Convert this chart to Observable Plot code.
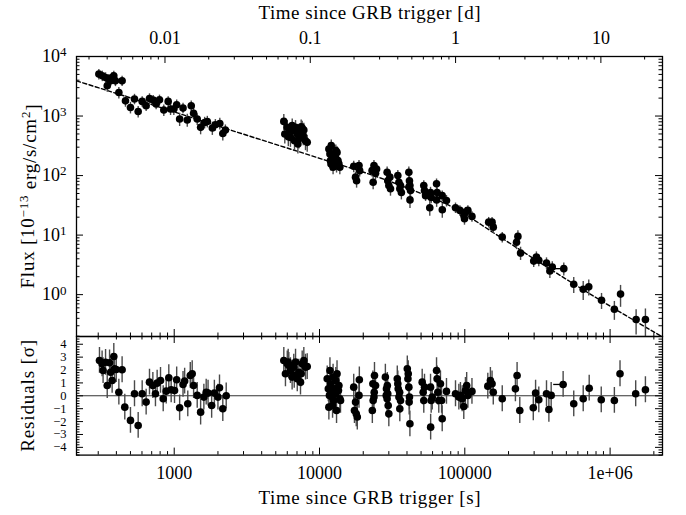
<!DOCTYPE html>
<html><head><meta charset="utf-8">
<script src="https://cdn.jsdelivr.net/npm/d3@7"></script>
<script src="https://cdn.jsdelivr.net/npm/@observablehq/plot@0.6"></script>
<style>
body{margin:0;background:#fff;}
#wrap{position:relative;width:686px;height:515px;font-family:"Liberation Serif",serif;}
#wrap svg{position:absolute;left:0;overflow:visible;font-family:"Liberation Serif","Times New Roman",serif !important;}
#wrap svg text{font-family:"Liberation Serif","Times New Roman",serif !important;}
</style></head><body><div id="wrap"></div>
<script>
// ---------- data ----------
const fluxTime = [
 303,320,337,355,374,384,365,346,394,438,416,462,500,533,565,602,641,676,717,751,792,848,909,944,994,1040,1090,1150,1230,1310,1360,1440,1520,1620,1690,1830,1920,2060,2160,2250,
 5680,5770,6000,6250,6310,6550,6730,6840,7030,7210,7400,7600,7800,8010,7730,6490,7100,8230,6100,7480,
 11600,11800,11900,12000,12200,12400,12500,12700,12900,13100,13200,13400,13600,13800,12050,12950,
 17200,17700,18000,18700,18900,23000,23400,23700,24300,24700,29200,29500,30000,30500,30800,
 34600,35200,35700,36100,36600,41200,41600,41900,42300,41950,41250,
 52200,52800,53700,58100,57400,58700,63900,64500,64000,69900,70000,74800,
 86300,92500,98500,101000,105000,99500,112000,146000,154000,157000,181000,227000,232000,242000,
 298000,311000,323000,365000,385000,400000,480000,562000,653000,713000,873000,1070000,1180000,1510000,1750000
];
const fluxValue = [
 5060,4730,4440,4170,4440,4730,3900,3220,3900,3900,2480,1800,1390,1930,1190,1760,1490,1970,1850,1590,1870,1260,1760,1310,1310,1550,890,1360,860,1490,1110,890,645,780,810,630,715,750,510,580,
 813,499,645,582,438,567,385,645,499,412,567,630,582,385,468,689,340,361,450,662,
 280,231,178,157,216,138,190,167,203,147,245,178,157,138,318,262,
 143,94,82,147,121,121,77,147,109,129,114,82,68,94,60,
 100,77,60,68,52,114,82,68,56,39,64,
 68,56,46,52,28.8,43,73,52,39,46,26.6,38,
 28.8,26,21.4,24.3,26,18.8,20.6,16.5,16.5,13.6,9.25,7.6,9.5,5.0,
 3.66,4.28,3.77,3.40,2.49,2.91,2.73,1.49,1.23,1.35,0.805,0.569,1.02,0.383,0.383
];
const fluxErr = [ // relative 1-sigma errors
 0.2,0.2,0.2,0.2,0.2,0.2,0.2,0.22,0.2,0.2,0.22,0.22,0.22,0.2,0.22,0.2,0.2,0.2,0.2,0.2,0.2,0.22,0.2,0.22,0.22,0.2,0.25,0.2,0.25,0.2,0.22,0.22,0.25,0.22,0.22,0.25,0.22,0.22,0.25,0.22,
 0.3,0.32,0.3,0.3,0.32,0.3,0.32,0.3,0.32,0.32,0.3,0.3,0.3,0.32,0.32,0.3,0.32,0.32,0.32,0.3,
 0.25,0.25,0.25,0.25,0.25,0.25,0.25,0.25,0.25,0.25,0.25,0.25,0.25,0.25,0.25,0.25,
 0.22,0.22,0.25,0.22,0.22,0.22,0.25,0.22,0.22,0.22,0.22,0.22,0.22,0.22,0.25,
 0.22,0.22,0.22,0.22,0.25,0.22,0.22,0.22,0.22,0.28,0.22,
 0.2,0.2,0.2,0.22,0.28,0.22,0.2,0.2,0.25,0.2,0.28,0.22,
 0.2,0.2,0.2,0.2,0.2,0.22,0.2,0.2,0.2,0.22,0.2,0.25,0.25,0.25,
 0.22,0.22,0.22,0.22,0.25,0.22,0.25,0.3,0.35,0.3,0.3,0.35,0.4,0.45,0.5
];
const resTime = [
 306,319,324,337,346,359,365,374,384,388,399,416,438,457,500,533,565,602,641,676,713,743,763,805,840,881,918,953,1005,1040,1090,1150,1180,1240,1290,1330,1360,1440,1520,1600,1660,1710,1810,1890,2000,2050,2160,2280,
 5680,5830,6000,6150,6310,6480,6650,6840,7030,7210,7400,7600,7800,8010,7480,6700,8230,6090,
 11300,11500,11600,11800,11900,12000,12200,12400,12500,12700,12900,13100,13200,13500,13600,13800,13950,11700,12300,12950,
 17200,17400,17700,17900,18200,18700,18800,
 23100,23300,23400,23700,23800,23900,24300,
 28400,28800,28900,29200,29300,29500,29700,30000,
 34300,34600,34800,35200,35600,35700,36100,
 40200,40600,40800,41200,41400,41600,41900,
 50900,51700,52200,52800,58100,58200,58700,59700,63900,64500,65200,66200,68000,69200,69900,74800,
 86300,91000,93300,95900,98400,101000,103000,105000,112000,
 144000,150000,154000,157000,181000,223000,229000,239000,
 296000,307000,323000,365000,379000,393000,475000,562000,653000,718000,869000,1070000,1170000,1500000,1750000
];
const resValue = [
 2.74,2.48,1.96,2.6,0.8,2.56,1.83,1.19,3.05,2.09,2.04,0.28,2.02,-0.88,-1.91,0.16,-2.3,0.16,-0.49,1.06,0.8,0.16,0.98,1.19,-0.23,0.36,1.4,0.47,0.41,1.24,-0.93,0.88,1.14,-0.62,1.58,1.71,0.8,0.03,-1.27,-0.1,0.28,0.21,-0.75,0.21,-0.1,0.62,-1.0,0,
 2.74,1.71,2.48,2.35,1.96,1.45,2.22,2.61,1.32,1.83,1.06,2.48,2.74,2.22,1.71,1.58,2.27,2.61,
 1.32,0.54,-0.88,1.96,0.93,0.28,-0.1,1.45,-0.36,0.54,0.16,-1.14,1.71,0.41,0.8,-0.23,-0.36,0.03,-0.75,1.19,
 0.67,-1.14,-0.49,-1.4,-1.65,0.03,1.24,
 -1.14,0.93,-0.36,-0.1,0.28,1.58,0.8,
 1.45,0.03,0.54,-0.23,0.8,0.16,-0.75,-1.4,
 1.32,0.93,0.54,-0.1,0.28,-1.01,-0.36,
 2.09,1.32,1.71,0.67,-0.49,-0.1,-2.17,
 1.06,0.28,-0.36,0.67,0.67,-2.43,-0.36,-0.1,1.96,1.32,0.28,-0.36,0.93,-0.36,-1.78,0.34,
 0.16,-0.1,0.03,-0.23,-0.83,0.41,0.8,0.03,0.34,
 0.75,1.19,0.93,0.28,-0.23,0.54,1.58,-1.14,
 -0.93,0.21,-0.31,0.16,-1.06,0.03,0.88,-0.62,-0.23,0.59,-0.31,-0.36,1.71,0.16,0.47
];
// time bins drawn as horizontal bars
const binStart = [409000];
const binEnd = [480000];
const binFlux = [2.73];
const binRes = [0.88];
// best-fit model (dashed line)
const modelTime = [213,1000,2320,10000,26300,50000,84000,160000,332000,1000000,2294000];
const modelFlux = [3900,1175,605,195,91,50,28.8,10.7,3.4,0.64,0.195];
// axes
const dayTicks = [0.01,0.1,1,10];
const dayTickLabels = ["0.01","0.1","1","10"];
const secTicks = [1000,10000,100000,1000000];
const secTickLabels = ["1000","10000","100000","1e+06"];
const fluxTicks = [1,10,100,1000,10000];
const fluxTickLabels = ["10^0","10^1","10^2","10^3","10^4"];
const resTicks = [-4,-3,-2,-1,0,1,2,3,4];
const resTickLabels = ["\u22124","\u22123","\u22122","\u22121","0","1","2","3","4"];
const titleTop = "Time since GRB trigger [d]";
const titleBottom = "Time since GRB trigger [s]";
const titleFlux = "Flux [10^-13 erg/s/cm^2]";
const titleRes = "Residuals [\u03c3]";

// ---------- layout ----------
const W = 686, L = 76, R = 24, TOP = 56, MID = 336, BOT = 454.6, H = 515;
const plotW = W - L - R;
const h1 = MID - TOP, h2 = BOT - MID;
const xDomain = [212.6, 2.294e6];
const font = "Liberation Serif";

const fluxData = fluxTime.map((t,i)=>({t, f:fluxValue[i], e:fluxErr[i]}));
const resData = resTime.map((t,i)=>({t, r:resValue[i]}));
const modelData = modelTime.map((t,i)=>({t, f:modelFlux[i]}));
const binData = binStart.map((t0,i)=>({t0, t1:binEnd[i], f:binFlux[i], r:binRes[i]}));

function minorLog(lo, hi){ const out=[]; for(let p=Math.floor(Math.log10(lo)); p<=Math.ceil(Math.log10(hi)); p++) for(let m=2;m<=9;m++){const v=m*Math.pow(10,p); if(v>=lo&&v<=hi) out.push(v);} return out; }
const secMinor = minorLog(xDomain[0], xDomain[1]);
const dayMinor = minorLog(xDomain[0]/86400, xDomain[1]/86400).map(d=>d*86400);
const fluxMinor = minorLog(0.198, 1e4);
const resMinor = d3.range(-4.6, 4.61, 0.2).map(v=>Math.round(v*10)/10).filter(v=>Math.abs(v-Math.round(v))>1e-6);

const MAJ = 7, MIN = 3.5;
const tickStyle = {stroke:"black", strokeWidth:1};
const txt = {fill:"black", lineAnchor:"middle", fontFamily: font};

// ---------- top panel ----------
const p1 = Plot.plot({
  width: W, height: MID, marginTop: TOP, marginBottom: 0, marginLeft: L, marginRight: R,
  style: {fontFamily: font, fontSize: "18px", background: "transparent", overflow: "visible"},
  x: {type: "log", domain: xDomain, axis: null},
  y: {type: "log", domain: [0.198, 1e4], axis: null},
  marks: [
    Plot.line(modelData, {x:"t", y:"f", stroke:"black", strokeWidth:1.4, strokeDasharray:"4,2.5", curve:"monotone-x", clip:true}),
    Plot.ruleX(fluxData, {x:"t", y1:d=>d.f*(1-d.e), y2:d=>d.f*(1+d.e), stroke:"#4a4a4a", strokeWidth:1.4, clip:true}),
    Plot.ruleY(binData, {x1:"t0", x2:"t1", y:"f", stroke:"black", strokeWidth:1.3}),
    Plot.dot(fluxData, {x:"t", y:"f", r:3.8, fill:"black", stroke:null, clip:true}),
    // ticks
    Plot.ruleX(secTicks, {x:d=>d, insetTop:h1-MAJ, ...tickStyle}),
    Plot.ruleX(secMinor, {x:d=>d, insetTop:h1-MIN, ...tickStyle}),
    Plot.ruleX(dayTicks.map(d=>d*86400), {x:d=>d, insetBottom:h1-MAJ, ...tickStyle}),
    Plot.ruleX(dayMinor, {x:d=>d, insetBottom:h1-MIN, ...tickStyle}),
    Plot.ruleY(fluxTicks, {y:d=>d, insetRight:plotW-MAJ, ...tickStyle}),
    Plot.ruleY(fluxMinor, {y:d=>d, insetRight:plotW-MIN, ...tickStyle}),
    Plot.ruleY(fluxTicks, {y:d=>d, insetLeft:plotW-MAJ, ...tickStyle}),
    Plot.ruleY(fluxMinor, {y:d=>d, insetLeft:plotW-MIN, ...tickStyle}),
    Plot.frame({stroke:"black", strokeWidth:1.3}),
    // labels
    Plot.text(dayTicks, {x:d=>d*86400, text:(d,i)=>dayTickLabels[i], frameAnchor:"top", dy:-18, fontSize:18, ...txt}),
    Plot.text([titleTop], {text:d=>d, frameAnchor:"top", dy:-44, fontSize:19, ...txt}),
    Plot.text(fluxTicks, {y:d=>d, text:(d,i)=>fluxTickLabels[i], frameAnchor:"left", dx:-10, textAnchor:"end", fontSize:18, ...txt}),
    Plot.text([titleFlux], {text:d=>d, frameAnchor:"left", dx:-49, rotate:-90, textAnchor:"middle", fontSize:19, ...txt})
  ]
});

// ---------- residual panel ----------
const p2 = Plot.plot({
  width: W, height: H - MID, marginTop: 0, marginBottom: H - BOT, marginLeft: L, marginRight: R,
  style: {fontFamily: font, fontSize: "18px", background: "transparent", overflow: "visible"},
  x: {type: "log", domain: xDomain, axis: null},
  y: {domain: [-4.6, 4.6], axis: null},
  marks: [
    Plot.ruleY([0], {stroke:"#333", strokeWidth:1.1}),
    Plot.ruleX(resData, {x:"t", y1:d=>d.r-1, y2:d=>d.r+1, stroke:"#4a4a4a", strokeWidth:1.4, clip:true}),
    Plot.ruleY(binData, {x1:"t0", x2:"t1", y:"r", stroke:"black", strokeWidth:1.3}),
    Plot.dot(resData, {x:"t", y:"r", r:3.8, fill:"black", stroke:null}),
    Plot.ruleX(secTicks, {x:d=>d, insetTop:h2-MAJ, ...tickStyle}),
    Plot.ruleX(secMinor, {x:d=>d, insetTop:h2-MIN, ...tickStyle}),
    Plot.ruleX(secTicks, {x:d=>d, insetBottom:h2-MAJ, ...tickStyle}),
    Plot.ruleX(secMinor, {x:d=>d, insetBottom:h2-MIN, ...tickStyle}),
    Plot.ruleY(resTicks, {y:d=>d, insetRight:plotW-MAJ, ...tickStyle}),
    Plot.ruleY(resMinor, {y:d=>d, insetRight:plotW-MIN, ...tickStyle}),
    Plot.ruleY(resTicks, {y:d=>d, insetLeft:plotW-MAJ, ...tickStyle}),
    Plot.ruleY(resMinor, {y:d=>d, insetLeft:plotW-MIN, ...tickStyle}),
    Plot.frame({stroke:"black", strokeWidth:1.3}),
    Plot.text(resTicks, {y:d=>d, text:(d,i)=>resTickLabels[i], frameAnchor:"left", dx:-10, textAnchor:"end", fontSize:12.5, ...txt}),
    Plot.text([titleRes], {text:d=>d, frameAnchor:"left", dx:-49, rotate:-90, textAnchor:"middle", fontSize:19, ...txt}),
    Plot.text(secTicks, {x:d=>d, text:(d,i)=>secTickLabels[i], frameAnchor:"bottom", dy:18.5, fontSize:18, ...txt}),
    Plot.text([titleBottom], {text:d=>d, frameAnchor:"bottom", dy:43, fontSize:19, ...txt})
  ]
});

const wrap = document.getElementById("wrap");
p1.style.top = "0px";
p2.style.top = MID + "px";
wrap.appendChild(p2);
wrap.appendChild(p1);

// superscripts as real tspans, and title widths matched to the reference
const fit = {[titleTop]: 222, [titleBottom]: 222, [titleRes]: 112};
d3.selectAll("#wrap svg text").each(function(){
  const s = this.textContent;
  const m = s.match(/^10\^(\d)$/);
  if (m) { this.textContent = "10"; d3.select(this).append("tspan").attr("dy", "-0.45em").attr("font-size", "13px").text(m[1]); }
  if (s === titleFlux) {
    this.textContent = "Flux [10";
    const t = d3.select(this);
    t.append("tspan").attr("dy","-0.45em").attr("font-size","13px").text("\u221213");
    t.append("tspan").attr("dy","0.45em").text(" erg/s/cm");
    t.append("tspan").attr("dy","-0.45em").attr("font-size","13px").text("2");
    t.append("tspan").attr("dy","0.45em").text("]");
    t.attr("textLength", 184).attr("lengthAdjust", "spacing");
  }
  if (fit[s]) d3.select(this).attr("textLength", fit[s]).attr("lengthAdjust", "spacing");
});
</script></body></html>
